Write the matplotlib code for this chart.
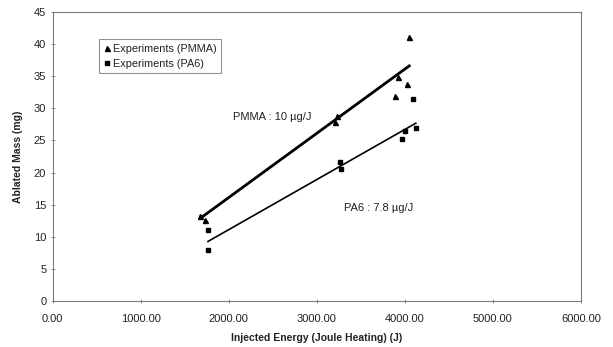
import matplotlib
matplotlib.use("Agg")
import matplotlib.pyplot as plt
from matplotlib.ticker import FixedLocator, FuncFormatter
import numpy as np

plt.rcParams['font.family'] = ['Liberation Sans', 'DejaVu Sans']

# Data
pmma_energy = [1680, 1730, 3212, 3235, 3922, 3884, 4027, 4046]
pmma_mass = [13.2, 12.6, 27.8, 28.8, 34.9, 31.9, 33.8, 41.1]
pa6_energy = [1762, 1762, 3265, 3270, 3964, 4001, 4092, 4123]
pa6_mass = [11.0, 8.0, 21.6, 20.6, 25.2, 26.4, 31.5, 27.0]

# Trend lines (slope in mg/J, intercept in mg, energy range in J)
pmma_fit = {"slope": 0.0100, "intercept": -3.9, "range": [1690, 4050]}
pa6_fit = {"slope": 0.0078, "intercept": -4.5, "range": [1765, 4125]}

x_ticks = [0, 1000, 2000, 3000, 4000, 5000, 6000]
y_ticks = [0, 5, 10, 15, 20, 25, 30, 35, 40, 45]

fig = plt.figure(figsize=(6.13, 3.47), dpi=100)
ax = fig.add_axes([0.0857, 0.1326, 0.862, 0.833])

# trend lines
xr = np.array(pmma_fit["range"], dtype=float)
ax.plot(xr, pmma_fit["slope"] * xr + pmma_fit["intercept"], color='black', lw=2.0, zorder=2)
xr2 = np.array(pa6_fit["range"], dtype=float)
ax.plot(xr2, pa6_fit["slope"] * xr2 + pa6_fit["intercept"], color='black', lw=1.2, zorder=2)

ax.plot(pmma_energy, pmma_mass, linestyle='none', marker='^', color='black',
        markersize=3.6, label='Experiments (PMMA)', zorder=3)
ax.plot(pa6_energy, pa6_mass, linestyle='none', marker='s', color='black',
        markersize=3.2, label='Experiments (PA6)', zorder=3)

ax.set_xlim(0, 6000)
ax.set_ylim(0, 45)
ax.xaxis.set_major_locator(FixedLocator(x_ticks))
ax.yaxis.set_major_locator(FixedLocator(y_ticks))
ax.xaxis.set_major_formatter(FuncFormatter(lambda v, p: f"{v:.2f}"))
ax.yaxis.set_major_formatter(FuncFormatter(lambda v, p: f"{v:g}"))

for s in ax.spines.values():
    s.set_color('#7a7a7a')
    s.set_linewidth(0.8)

ax.tick_params(axis='both', direction='inout', length=3, width=0.6,
               color='#7a7a7a', labelsize=8, labelcolor='#222222')
ax.tick_params(axis='x', pad=8)
ax.tick_params(axis='y', pad=3)

ax.set_xlabel('Injected Energy (Joule Heating) (J)', fontsize=7.5,
              fontweight='bold', color='#222222', labelpad=6)
ax.set_ylabel('Ablated Mass (mg)', fontsize=7.5, fontweight='bold',
              color='#222222', labelpad=8)

ax.text(2050, 28.6, 'PMMA : 10 µg/J', fontsize=8, color='#222222', va='center')
ax.text(3310, 14.5, 'PA6 : 7.8 µg/J', fontsize=8, color='#222222', va='center')

leg = ax.legend(loc='upper left', bbox_to_anchor=(0.088, 0.905), fontsize=7.8,
                frameon=True, fancybox=False, handlelength=0.6,
                handletextpad=0.3, borderpad=0.4, labelspacing=0.45,
                borderaxespad=0)
leg.get_frame().set_edgecolor('#7a7a7a')
leg.get_frame().set_linewidth(0.8)
for t in leg.get_texts():
    t.set_color('#222222')

fig.savefig('out.png', dpi=100)
